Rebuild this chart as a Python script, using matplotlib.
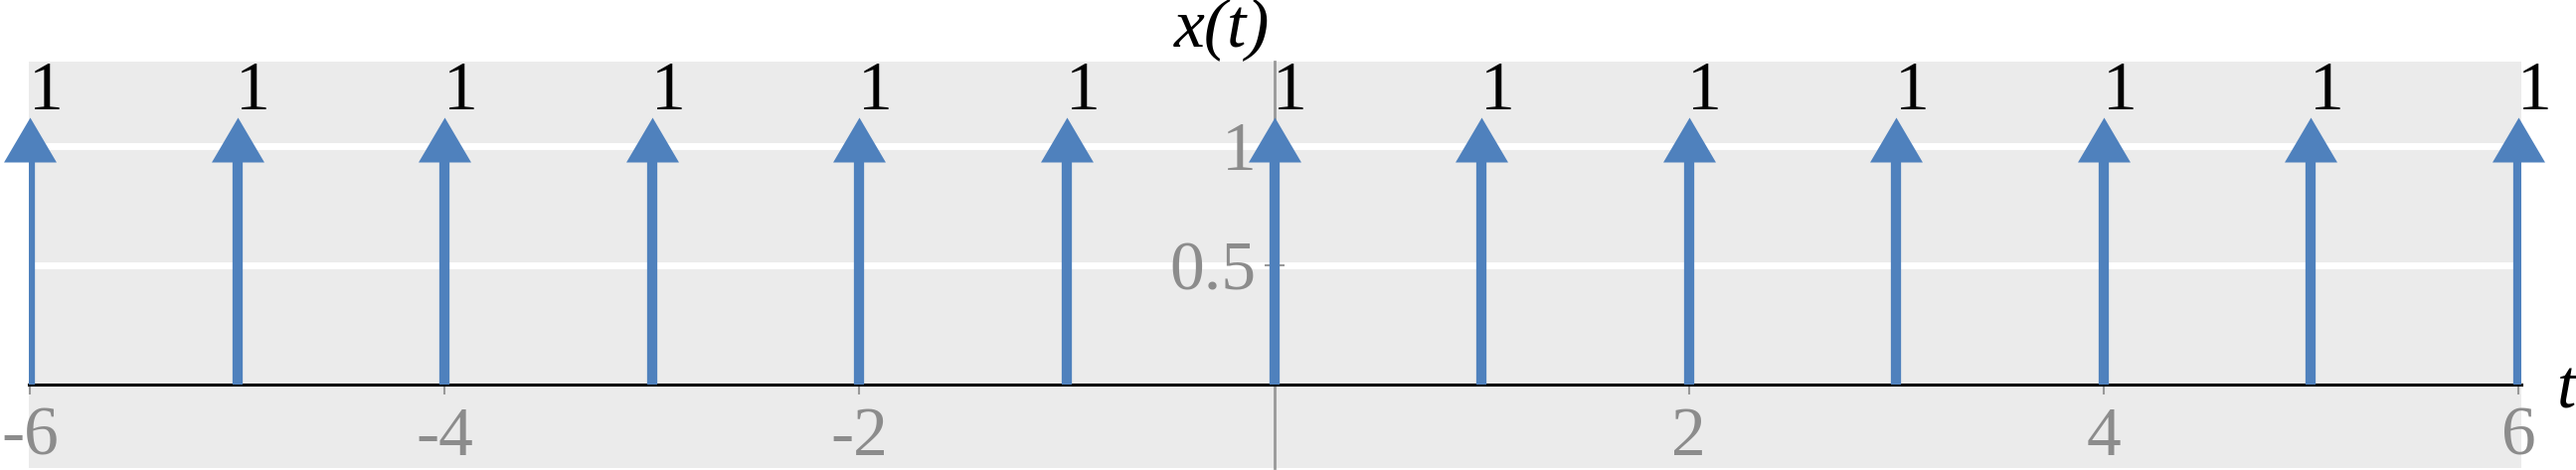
import numpy as np
import matplotlib
matplotlib.use('Agg')
import matplotlib.pyplot as plt
from matplotlib.path import Path

# Impulse train data
t_imp = [-6, -5, -4, -3, -2, -1, 0, 1, 2, 3, 4, 5, 6]
amp = [1, 1, 1, 1, 1, 1, 1, 1, 1, 1, 1, 1, 1]
xticks = [-6, -4, -2, 2, 4, 6]
xtick_labels = ['-6', '-4', '-2', '2', '4', '6']
yticks = [0.5, 1]
ytick_labels = ['0.5', '1']

blue = '#4f81bd'
grey = '#8c8c8c'
serif = 'Liberation Serif'
fs = 50

fig = plt.figure(figsize=(25.91, 4.73), dpi=100)
ax = fig.add_axes([0.0112, 0.0042, 0.9676, 0.8648])
ax.set_facecolor('#ebebeb')
ax.set_xlim(-6.005, 6.015)
ax.set_ylim(-0.35, 1.354)
ax.set_axisbelow(True)

# arrowhead marker: base at origin, pointing up
head = Path([(-1, 0), (1, 0), (0, 1.70), (-1, 0)],
            [Path.MOVETO, Path.LINETO, Path.LINETO, Path.CLOSEPOLY])
head_drop = 0.067

t = np.array(t_imp, dtype=float)
a = np.array(amp, dtype=float)
ax.vlines(t, 0, a - head_drop, color=blue, lw=7.4, zorder=3)
ax.plot(t, a - head_drop, ls='', marker=head, ms=64.8, mew=0,
        color=blue, clip_on=False, zorder=4)

for ti, ai in zip(t, a):
    ax.text(ti + 0.077, ai + 0.154, f'{ai:g}', ha='center', va='baseline',
            fontsize=fs, family=serif, color='black')

# spines through the origin
for s in ['top', 'right']:
    ax.spines[s].set_visible(False)
ax.spines['left'].set_position(('data', 0))
ax.spines['left'].set_color('#999999')
ax.spines['left'].set_linewidth(2)
ax.spines['left'].set_zorder(2)
ax.spines['bottom'].set_position(('data', 0))
ax.spines['bottom'].set_color('black')
ax.spines['bottom'].set_linewidth(2.2)
ax.spines['bottom'].set_zorder(2.5)

ax.set_xticks(xticks)
ax.set_xticklabels(xtick_labels, family=serif, fontsize=fs)
ax.set_yticks(yticks)
ax.set_yticklabels(ytick_labels, family=serif, fontsize=fs)
ax.tick_params(axis='x', direction='out', length=7.2, width=1.5,
               color='#999999', labelcolor=grey, pad=9)
ax.tick_params(axis='y', direction='inout', length=14.4, width=1.5,
               color='#999999', labelcolor=grey, pad=6)

ax.grid(axis='y', color='white', lw=5)
ax.grid(axis='x', visible=False)

ax.text(-0.02, 1.417, 'x(t)', ha='right', va='baseline', fontsize=fs,
        family=serif, style='italic', clip_on=False)
ax.text(6.187, -0.096, 't', ha='left', va='baseline', fontsize=fs,
        family=serif, style='italic', clip_on=False)

fig.savefig('out.png', dpi=100)
